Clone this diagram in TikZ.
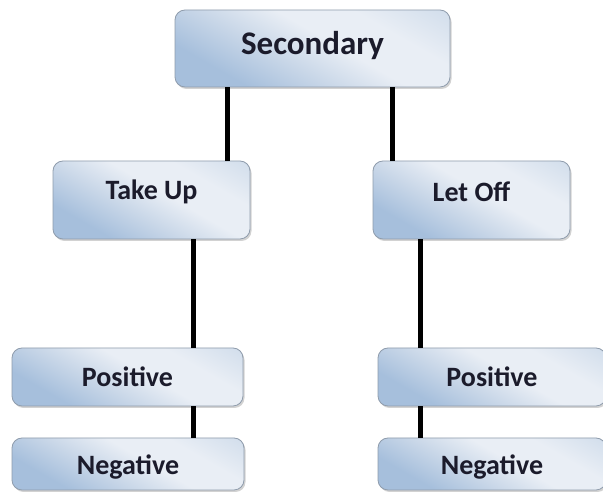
\documentclass[tikz,border=0pt]{standalone}
\usepackage{fontspec}
\setmainfont{Carlito}
\usetikzlibrary{shadows}
\definecolor{shadeDark}{HTML}{A6BFDC}
\definecolor{shadeMid}{HTML}{C9D7E8}
\definecolor{shadeLight}{HTML}{E9EEF5}
\definecolor{shadeEdge}{HTML}{BACDE2}
\definecolor{boxLine}{HTML}{8F9CAC}
\definecolor{inkText}{HTML}{1B1B2B}
\pgfdeclarehorizontalshading{boxshade}{100bp}{%
  color(0bp)=(shadeDark); color(28bp)=(shadeDark); color(42bp)=(shadeMid);
  color(55bp)=(shadeLight); color(68bp)=(shadeLight); color(100bp)=(shadeEdge)}
\tikzset{
  box/.style={draw=boxLine, line width=0.8pt, rounded corners=10pt,
    shading=boxshade, shading angle=60, inner sep=0pt,
    drop shadow={shadow xshift=1.5pt, shadow yshift=-2pt, opacity=0.35, fill=gray},
    text=inkText, font=\bfseries\fontsize{28}{33}\selectfont},
  link/.style={line width=5pt, draw=black}
}
\newcommand{\lift}[2]{\raisebox{#1}[\height][\depth]{#2}}
\begin{document}
\begin{tikzpicture}[x=1pt,y=1pt]
  \useasboundingbox[fill=white] (0,0) rectangle (603,492);
  % top level
  \node[box, minimum width=275pt, minimum height=77pt, font=\bfseries\fontsize{33}{38}\selectfont]
    (sec) at (312.5,443.5) {\lift{3pt}{Secondary}};
  % second level
  \node[box, minimum width=197pt, minimum height=78pt] (tu) at (151.5,292) {\lift{8pt}{Take Up}};
  \node[box, minimum width=197pt, minimum height=78pt] (lo) at (471.5,292) {\lift{8pt}{Let Off}};
  % third level
  \node[box, minimum width=231pt, minimum height=58pt] (pl) at (127.5,115) {Positive};
  \node[box, minimum width=232pt, minimum height=52pt] (nl) at (128,28) {\lift{-3pt}{Negative}};
  \node[box, minimum width=228pt, minimum height=58pt] (pr) at (492,115) {Positive};
  \node[box, minimum width=228pt, minimum height=52pt] (nr) at (492,28) {\lift{-3pt}{Negative}};
  % connectors
  \draw[link] ([xshift=75.5pt]tu.north) -- ([xshift=75.5pt]tu.north |- sec.south);
  \draw[link] ([xshift=-79.5pt]lo.north) -- ([xshift=-79.5pt]lo.north |- sec.south);
  \draw[link] ([xshift=41.5pt]tu.south) -- ([xshift=41.5pt]tu.south |- pl.north);
  \draw[link] ([xshift=-51.5pt]lo.south) -- ([xshift=-51.5pt]lo.south |- pr.north);
  \draw[link] ([xshift=65.5pt]pl.south) -- ([xshift=65.5pt]pl.south |- nl.north);
  \draw[link] ([xshift=-72pt]pr.south) -- ([xshift=-72pt]pr.south |- nr.north);
\end{tikzpicture}
\end{document}
